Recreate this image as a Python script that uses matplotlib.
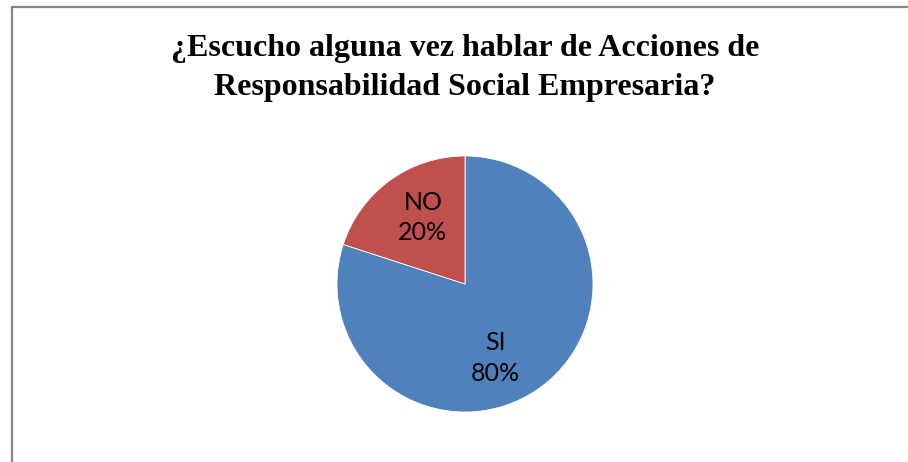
import matplotlib
matplotlib.use("Agg")
import matplotlib.pyplot as plt
from matplotlib.patches import Rectangle

# Data
categories = ["SI", "NO"]
values = [80, 20]
colors = ["#4F81BD", "#C0504D"]
title = "¿Escucho alguna vez hablar de Acciones de\nResponsabilidad Social Empresaria?"

W, H = 908, 462
fig = plt.figure(figsize=(W / 100, H / 100), dpi=100)

# chart border (cut off at right and bottom like the reference)
fig.patches.append(Rectangle((11.5 / W, -0.1), 1.2, 1.1 - 7.5 / H, transform=fig.transFigure,
                             fill=False, edgecolor="#878787", linewidth=1.6))

fig.text(465 / W, 1 - 68 / H, title, ha="center", va="center", ma="center",
         family="Liberation Serif", fontweight="bold", fontsize=23, linespacing=1.45)

# pie axes: centre (465, 284), radius 128 px
cx, cy, r = 465, 284, 128
ax = fig.add_axes([(cx - r) / W, (H - cy - r) / H, 2 * r / W, 2 * r / H])
wedges, texts, autotexts = ax.pie(
    values, colors=colors, startangle=90, counterclock=False,
    autopct=lambda p: "", pctdistance=0.63,
    wedgeprops=dict(linewidth=0.6, edgecolor="white"))
ax.set_xlim(-1, 1)
ax.set_ylim(-1, 1)
ax.set_aspect("equal")
ax.axis("off")

for t, name, v in zip(autotexts, categories, values):
    t.set_text(f"{name}\n{v}%")
    t.set_fontfamily("Lato")
    t.set_fontsize(18)
    t.set_color("black")
    t.set_linespacing(1.4)
    t.set_horizontalalignment("center")
    t.set_verticalalignment("center")

# nudge labels to match reference placement
autotexts[0].set_position((0.24, -0.58))
autotexts[1].set_position((-0.33, 0.52))

fig.savefig("out.png", dpi=100)
